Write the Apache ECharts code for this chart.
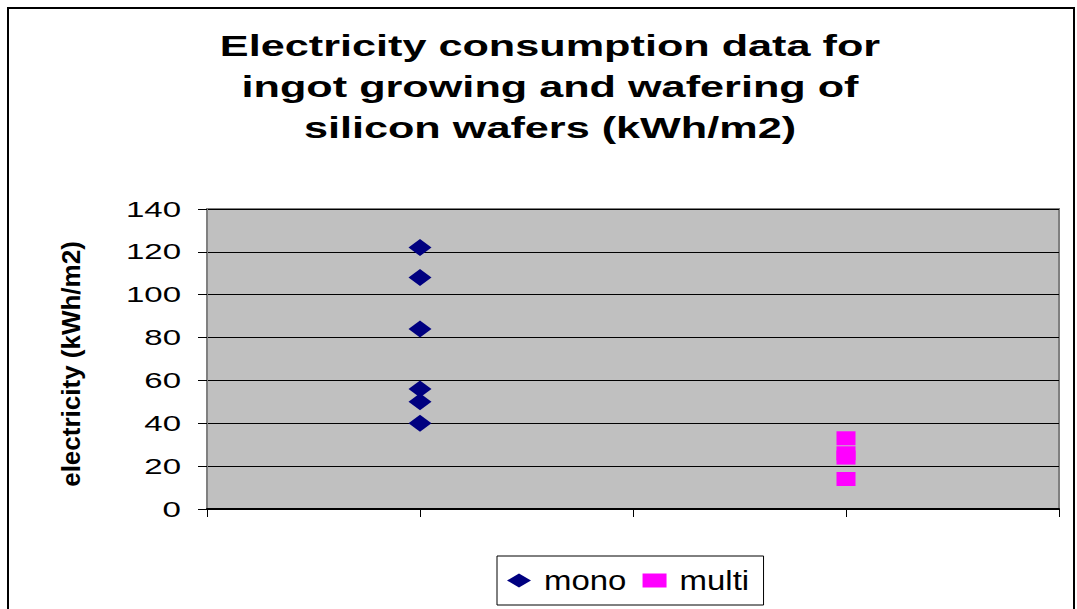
<!DOCTYPE html>
<html>
<head>
<meta charset="utf-8">
<script src="https://cdn.jsdelivr.net/npm/echarts@6/dist/echarts.min.js"></script>
<style>
  html, body { margin: 0; padding: 0; background: #fff; }
  #chart { width: 1077px; height: 609px; }
</style>
</head>
<body>
<div id="chart"></div>
<script>
// x positions are just slots: mono at 1, multi at 3
const monoX = 1;
const multiX = 3;
const monoValues = [122, 108, 84, 56, 50, 40];
const multiValues = [33, 26, 24, 14];
const yTicks = [0, 20, 40, 60, 80, 100, 120, 140];
const titleLines = [
  'Electricity consumption data for',
  'ingot growing and wafering of',
  'silicon wafers (kWh/m2)'
];
const yAxisName = 'electricity (kWh/m2)';

// the original draws its text stretched sideways; widen glyphs after render
const stretchFor = (txt) => {
  if (titleLines.includes(txt)) return 1.49;
  if (txt === 'mono' || txt === 'multi') return 1.22;
  if (yTicks.map(String).includes(txt)) return 1.5;
  return 1;
};

const chart = echarts.init(document.getElementById('chart'), null, { renderer: 'svg' });

const stretchText = () => {
  document.querySelectorAll('#chart svg text').forEach(el => {
    const k = stretchFor(el.textContent.trim());
    if (k === 1) return;
    if (!el.dataset.natural) {
      el.dataset.natural = el.getComputedTextLength();
    }
    el.setAttribute('textLength', (+el.dataset.natural * k).toFixed(1));
    el.setAttribute('lengthAdjust', 'spacingAndGlyphs');
  });
};
chart.on('finished', stretchText);

const option = {
  animation: false,
  backgroundColor: '#fff',
  title: {
    text: titleLines.join('\n'),
    left: 550,
    top: 25,
    textAlign: 'center',
    padding: 0,
    textStyle: {
      fontFamily: 'Liberation Sans',
      fontWeight: 'bold',
      fontSize: 29,
      lineHeight: 41,
      color: '#000'
    }
  },
  graphic: [{
    type: 'rect',
    shape: { x: 8, y: 8, width: 1066, height: 640 },
    style: { fill: 'none', stroke: '#000', lineWidth: 2 },
    silent: true
  }],
  legend: {
    left: 497,
    top: 556,
    padding: [11, 27, 11, 10],
    itemWidth: 24,
    itemHeight: 14,
    itemGap: 31,
    borderColor: '#000',
    borderWidth: 1,
    textStyle: {
      fontFamily: 'Liberation Sans',
      fontSize: 27,
      lineHeight: 27,
      color: '#000',
      padding: [0, 0, 0, 8]
    },
    data: [
      { name: 'mono', icon: 'diamond' },
      { name: 'multi', icon: 'rect' }
    ]
  },
  grid: {
    left: 207,
    top: 209,
    right: 18,
    bottom: 100,
    show: true,
    backgroundColor: '#C0C0C0',
    borderColor: '#808080',
    borderWidth: 2
  },
  xAxis: {
    type: 'value',
    min: 0,
    max: 4,
    interval: 1,
    axisLine: { show: true, lineStyle: { color: '#000', width: 2 } },
    axisTick: { show: true, length: 8, lineStyle: { color: '#000' } },
    axisLabel: { show: false },
    splitLine: { show: false }
  },
  yAxis: {
    type: 'value',
    min: yTicks[0],
    max: yTicks[yTicks.length - 1],
    interval: 20,
    name: yAxisName,
    nameLocation: 'middle',
    nameRotate: 90,
    nameGap: 123,
    nameTextStyle: {
      fontFamily: 'Liberation Sans',
      fontWeight: 'bold',
      fontSize: 26,
      color: '#000',
      padding: [0, 10, 0, 0]
    },
    axisLine: { show: true, lineStyle: { color: '#808080', width: 2 } },
    axisTick: { show: true, length: 9, lineStyle: { color: '#000' } },
    axisLabel: {
      margin: 26,
      fontFamily: 'Liberation Sans',
      fontSize: 22,
      color: '#000'
    },
    splitLine: { show: true, lineStyle: { color: '#000', width: 1 } }
  },
  series: [
    {
      name: 'mono',
      type: 'scatter',
      symbol: 'diamond',
      symbolSize: [23, 17],
      itemStyle: { color: '#000080', opacity: 1 },
      data: monoValues.map(v => [monoX, v])
    },
    {
      name: 'multi',
      type: 'scatter',
      symbol: 'rect',
      symbolSize: [19, 14],
      itemStyle: { color: '#FF00FF', opacity: 1 },
      data: multiValues.map(v => [multiX, v])
    }
  ]
};

chart.setOption(option);
stretchText();
setTimeout(stretchText, 50);
</script>
</body>
</html>
